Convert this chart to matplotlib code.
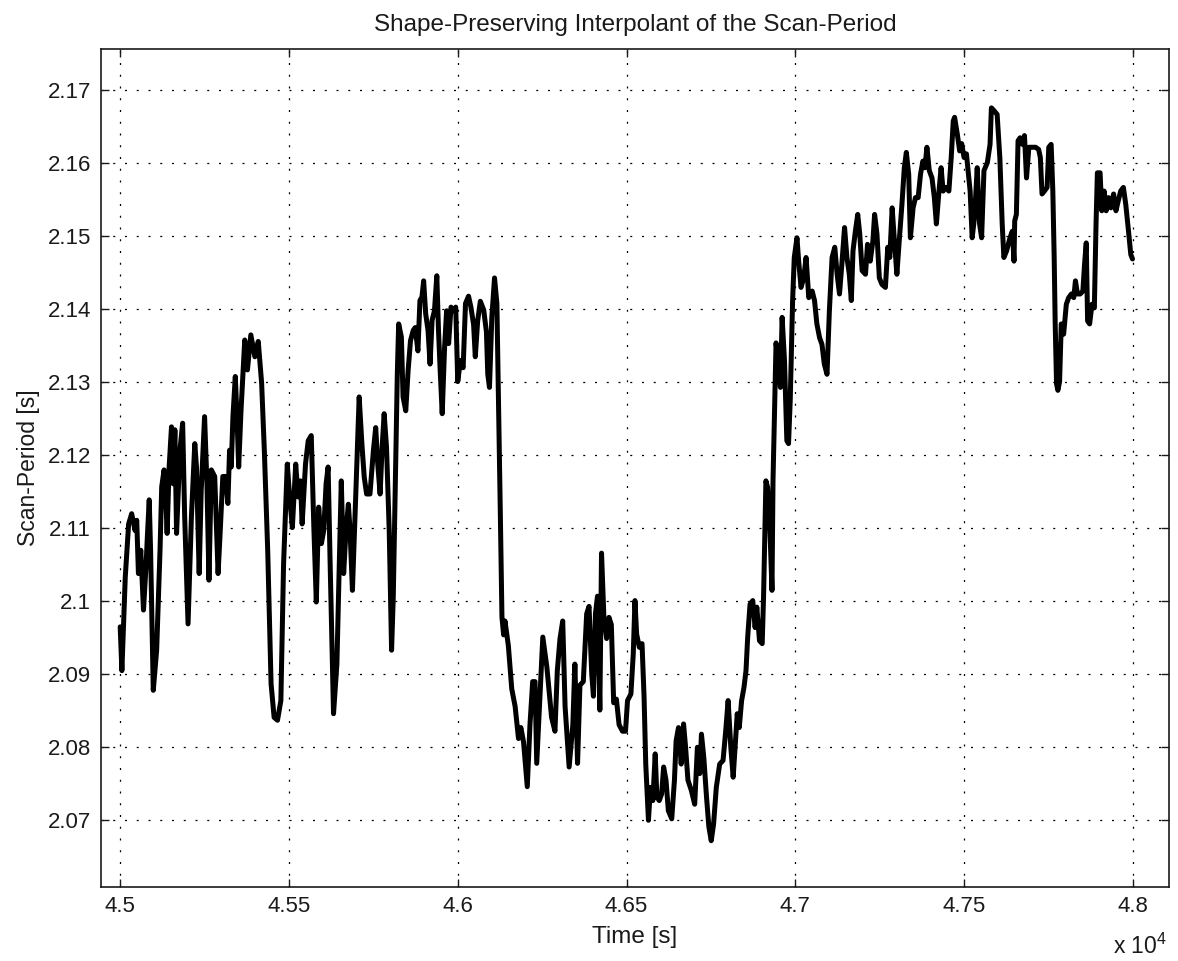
import matplotlib
matplotlib.use("Agg")
import matplotlib.pyplot as plt
from matplotlib.ticker import FixedLocator, FuncFormatter

plt.rcParams['font.family'] = ['Liberation Sans', 'DejaVu Sans']
plt.rcParams['mathtext.fontset'] = 'custom'
plt.rcParams['mathtext.rm'] = 'Liberation Sans'
plt.rcParams['mathtext.it'] = 'Liberation Sans'

# ---- data ----
time_s = [
    45000, 45005, 45015, 45025, 45034, 45044, 45049, 45054, 45061, 45069, 45077, 45080, 45086, 45090,
    45098, 45108, 45118, 45123, 45130, 45135, 45139, 45145, 45152, 45157, 45162, 45167, 45177, 45185,
    45191, 45201, 45211, 45221, 45226, 45234, 45240, 45250, 45257, 45263, 45270, 45280, 45290, 45296,
    45304, 45312, 45319, 45324, 45329, 45334, 45341, 45346, 45351, 45358, 45369, 45377, 45387, 45399,
    45409, 45419, 45427, 45437, 45447, 45456, 45466, 45476, 45484, 45495,
    45502, 45510, 45520, 45527, 45534, 45539, 45549, 45557, 45566, 45574, 45581, 45588, 45596, 45603,
    45610, 45616, 45622, 45632, 45642, 45649, 45655, 45662, 45669, 45676, 45681, 45688, 45696, 45708,
    45716, 45723, 45730, 45740, 45750, 45757, 45763, 45770, 45776, 45782, 45789, 45797, 45804, 45809,
    45816, 45821, 45825, 45833, 45838, 45846, 45853, 45860, 45868, 45874, 45882, 45888, 45894, 45899,
    45905, 45912, 45918, 45924, 45931, 45938, 45943, 45948, 45954, 45961, 45967, 45973, 45980, 45988,
    45994, 46000, 46008, 46016, 46023, 46032, 46039, 46047, 46052, 46059, 46067, 46077, 46085, 46089,
    46094, 46101, 46109, 46116, 46121, 46126, 46131, 46136, 46140, 46150, 46160, 46170, 46180, 46187,
    46195, 46206, 46214, 46222, 46229, 46234, 46242, 46252, 46264, 46278, 46288, 46295, 46303, 46311,
    46318, 46330, 46341, 46347, 46355, 46362, 46372, 46382, 46389, 46397, 46402, 46408, 46414, 46421,
    46426, 46433, 46441, 46448, 46455, 46462, 46470, 46478, 46488, 46497,
    46503, 46513, 46520, 46525, 46530, 46538, 46546, 46552, 46557, 46565, 46571, 46578, 46585, 46590,
    46597, 46604, 46610, 46617, 46624, 46634, 46642, 46647, 46654, 46662, 46669, 46675, 46682, 46692,
    46702, 46710, 46717, 46722, 46729, 46737, 46744, 46751, 46758, 46766, 46776, 46786, 46794, 46801,
    46809, 46816, 46823, 46828, 46834, 46841, 46848, 46854, 46859, 46866, 46874, 46881, 46886, 46894,
    46902, 46906, 46913, 46918, 46924, 46931, 46934, 46943, 46951, 46956, 46961, 46968, 46975, 46980,
    46985, 46992, 46997, 47005,
    47010, 47017, 47025, 47032, 47040, 47050, 47057, 47064, 47072, 47079, 47086, 47094, 47101, 47109,
    47117, 47124, 47131, 47138, 47146, 47153, 47160, 47166, 47171, 47178, 47185, 47191, 47198, 47208,
    47214, 47222, 47230, 47235, 47242, 47249, 47257, 47267, 47274, 47280, 47287, 47293, 47301, 47308,
    47316, 47323, 47329, 47336, 47341, 47349, 47356, 47364, 47371, 47378, 47384, 47390, 47397, 47405,
    47412, 47418, 47425, 47432, 47438, 47445, 47455, 47462, 47468, 47472, 47480, 47487, 47493, 47500,
    47507, 47518, 47524, 47531, 47539, 47546, 47552, 47559, 47569, 47577, 47581, 47589, 47598, 47606,
    47613, 47618, 47626, 47636, 47643, 47648, 47650, 47655, 47660, 47666, 47673, 47679, 47685, 47692,
    47702, 47712, 47721, 47726, 47731, 47738, 47746, 47751, 47758, 47763, 47767, 47770, 47774, 47778,
    47783, 47788, 47795, 47803, 47810, 47818, 47825, 47830, 47836, 47844, 47852, 47857, 47862, 47866,
    47872, 47879, 47886, 47891, 47895, 47903, 47908, 47915, 47921, 47928, 47935, 47943, 47950, 47957,
    47964, 47972, 47979, 47987, 47994, 47999,
]

scan_period = [
    2.0964, 2.0904, 2.1032, 2.1105, 2.1119, 2.1096, 2.1110, 2.1037, 2.1069, 2.0987, 2.1051, 2.1083, 2.1138, 2.1069,
    2.0877, 2.0932, 2.1069, 2.1156, 2.1179, 2.1142, 2.1092, 2.1183, 2.1238, 2.1160, 2.1234, 2.1092, 2.1206, 2.1243,
    2.1115, 2.0968, 2.1115, 2.1215, 2.1183, 2.1037, 2.1151, 2.1252, 2.1160, 2.1028, 2.1179, 2.1170, 2.1037, 2.1092,
    2.1170, 2.1170, 2.1133, 2.1206, 2.1183, 2.1252, 2.1307, 2.1252, 2.1183, 2.1261, 2.1357, 2.1316, 2.1364, 2.1334,
    2.1355, 2.1298, 2.1206, 2.1069, 2.0886, 2.0840, 2.0836, 2.0863, 2.1050, 2.1187,
    2.1142, 2.1100, 2.1187, 2.1142, 2.1164, 2.1105, 2.1187, 2.1219, 2.1226, 2.1096, 2.0998, 2.1128, 2.1078, 2.1096,
    2.1160, 2.1183, 2.1050, 2.0845, 2.0913, 2.1050, 2.1164, 2.1037, 2.1096, 2.1132, 2.1096, 2.1014, 2.1119, 2.1279,
    2.1215, 2.1169, 2.1146, 2.1146, 2.1205, 2.1237, 2.1187, 2.1146, 2.1210, 2.1256, 2.1210, 2.1096, 2.0932, 2.1005,
    2.1187, 2.1311, 2.1379, 2.1361, 2.1279, 2.1260, 2.1315, 2.1356, 2.1370, 2.1374, 2.1342, 2.1411, 2.1416, 2.1438,
    2.1393, 2.1370, 2.1324, 2.1384, 2.1397, 2.1445, 2.1370, 2.1315, 2.1256, 2.1347, 2.1397, 2.1352, 2.1402, 2.1397,
    2.1402, 2.1300, 2.1329, 2.1319, 2.1407, 2.1417, 2.1402, 2.1378, 2.1334, 2.1383, 2.1410, 2.1398, 2.1368, 2.1310,
    2.1292, 2.1388, 2.1442, 2.1407, 2.1270, 2.1124, 2.0977, 2.0953, 2.0972, 2.0938, 2.0879, 2.0855, 2.0811, 2.0826,
    2.0806, 2.0745, 2.0830, 2.0889, 2.0889, 2.0777, 2.0855, 2.0950, 2.0909, 2.0840, 2.0821, 2.0904, 2.0948, 2.0972,
    2.0855, 2.0772, 2.0830, 2.0913, 2.0777, 2.0884, 2.0889, 2.0982, 2.0992, 2.0899, 2.0869, 2.0982, 2.1006, 2.0850,
    2.1065, 2.0977, 2.0948, 2.0977, 2.0967, 2.0860, 2.0865, 2.0830, 2.0821, 2.0821,
    2.0863, 2.0872, 2.0927, 2.1000, 2.0954, 2.0936, 2.0941, 2.0868, 2.0776, 2.0699, 2.0744, 2.0726, 2.0790, 2.0731,
    2.0726, 2.0735, 2.0772, 2.0754, 2.0712, 2.0701, 2.0754, 2.0808, 2.0826, 2.0776, 2.0831, 2.0799, 2.0754, 2.0740,
    2.0721, 2.0799, 2.0763, 2.0817, 2.0785, 2.0731, 2.0690, 2.0671, 2.0694, 2.0744, 2.0776, 2.0781, 2.0822, 2.0863,
    2.0799, 2.0758, 2.0808, 2.0845, 2.0826, 2.0863, 2.0881, 2.0904, 2.0950, 2.0995, 2.1000, 2.0963, 2.0991, 2.0945,
    2.0941, 2.1005, 2.1164, 2.1155, 2.1110, 2.1014, 2.1164, 2.1353, 2.1319, 2.1292, 2.1388, 2.1329, 2.1219, 2.1215,
    2.1274, 2.1410, 2.1470, 2.1497,
    2.1465, 2.1429, 2.1442, 2.1470, 2.1415, 2.1424, 2.1411, 2.1379, 2.1360, 2.1351, 2.1324, 2.1310, 2.1397, 2.1470,
    2.1484, 2.1447, 2.1420, 2.1461, 2.1511, 2.1470, 2.1447, 2.1411, 2.1479, 2.1506, 2.1529, 2.1502, 2.1452, 2.1447,
    2.1488, 2.1465, 2.1493, 2.1529, 2.1502, 2.1442, 2.1433, 2.1429, 2.1484, 2.1470, 2.1538, 2.1497, 2.1447, 2.1493,
    2.1543, 2.1593, 2.1614, 2.1584, 2.1497, 2.1538, 2.1552, 2.1552, 2.1584, 2.1602, 2.1593, 2.1621, 2.1589, 2.1579,
    2.1552, 2.1516, 2.1557, 2.1593, 2.1561, 2.1566, 2.1561, 2.1607, 2.1657, 2.1662, 2.1639, 2.1616, 2.1626, 2.1607,
    2.1612, 2.1561, 2.1497, 2.1525, 2.1593, 2.1516, 2.1497, 2.1589, 2.1600, 2.1625, 2.1675, 2.1671, 2.1666, 2.1607,
    2.1516, 2.1470, 2.1479, 2.1497, 2.1506, 2.1465, 2.1520, 2.1529, 2.1630, 2.1634, 2.1625, 2.1637, 2.1579, 2.1621,
    2.1621, 2.1621, 2.1618, 2.1607, 2.1557, 2.1561, 2.1566, 2.1621, 2.1625, 2.1561, 2.1470, 2.1379, 2.1297, 2.1288,
    2.1300, 2.1379, 2.1365, 2.1406, 2.1415, 2.1420, 2.1415, 2.1438, 2.1420, 2.1420, 2.1424, 2.1461, 2.1490, 2.1383,
    2.1379, 2.1406, 2.1401, 2.1516, 2.1586, 2.1586, 2.1534, 2.1561, 2.1534, 2.1552, 2.1538, 2.1557, 2.1534, 2.1548,
    2.1561, 2.1566, 2.1543, 2.1507, 2.1474, 2.1468,
]

x_ticks = [45000, 45500, 46000, 46500, 47000, 47500, 48000]
y_ticks = [2.07, 2.08, 2.09, 2.10, 2.11, 2.12, 2.13, 2.14, 2.15, 2.16, 2.17]
x_limits = (44943, 48108)
y_limits = (2.0608, 2.1756)

title_text = "Shape-Preserving Interpolant of the Scan-Period"
x_label = "Time [s]"
y_label = "Scan-Period [s]"

# ---- figure ----
fig = plt.figure(figsize=(11.78, 9.61), dpi=100)
ax = fig.add_axes([0.0857, 0.0773, 0.9069, 0.8720])

ax.plot(time_s, scan_period, color='black', linewidth=3.6, solid_joinstyle='round',
        solid_capstyle='round', zorder=3)

ax.set_xlim(*x_limits)
ax.set_ylim(*y_limits)
ax.xaxis.set_major_locator(FixedLocator(x_ticks))
ax.yaxis.set_major_locator(FixedLocator(y_ticks))
ax.xaxis.set_major_formatter(FuncFormatter(lambda v, p: '%g' % (v / 1e4)))
ax.yaxis.set_major_formatter(FuncFormatter(lambda v, p: '%g' % round(v, 4)))

ax.grid(True, color='black', linewidth=0.9, linestyle=(0, (1.6, 7.8)), zorder=1)
ax.set_axisbelow(True)

ax.tick_params(axis='both', which='major', direction='in', length=6, width=1.0,
               top=True, right=True, labelsize=16, colors='#1a1a1a', pad=7)
for s in ax.spines.values():
    s.set_linewidth(1.2)
    s.set_color('#1a1a1a')

ax.set_title(title_text, fontsize=17.5, color='#1a1a1a', pad=13)
ax.set_xlabel(x_label, fontsize=17.5, color='#1a1a1a', labelpad=6)
ax.set_ylabel(y_label, fontsize=16.5, color='#1a1a1a', labelpad=6)

fig.text(0.9448, 0.0075, r'x 10$^{4}$', fontsize=16.5, color='#1a1a1a', ha='left', va='baseline')

fig.savefig('out.png', dpi=100)
